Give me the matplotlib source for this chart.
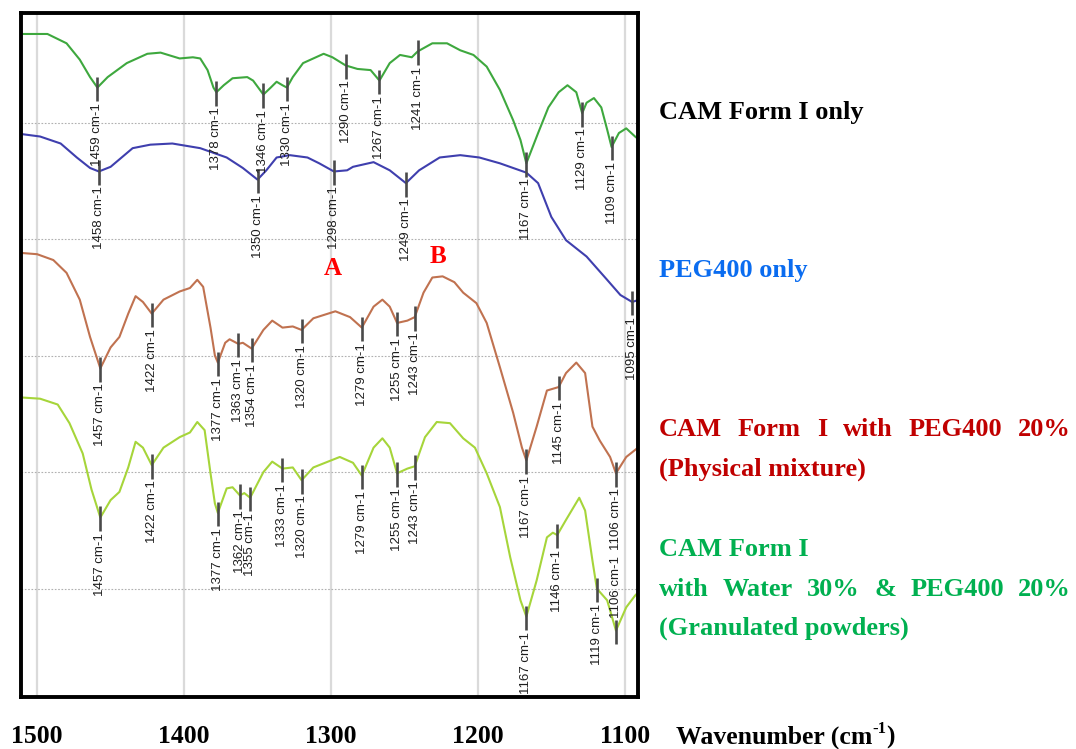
import numpy as np
import matplotlib
matplotlib.use("Agg")
import matplotlib.pyplot as plt

plt.rcParams['mathtext.fontset'] = 'custom'
plt.rcParams['mathtext.rm'] = 'Liberation Serif:bold'
plt.rcParams['mathtext.bf'] = 'Liberation Serif:bold'

# ---------------- data (wavenumber cm-1, transmittance in arbitrary offset units) -------------
cam_wn = [1510, 1493, 1480, 1471, 1464, 1459, 1452, 1439, 1425, 1416, 1403, 1394, 1389, 1384,
          1380, 1378, 1373, 1367, 1357, 1353, 1346, 1341, 1337, 1333, 1330, 1326, 1319, 1305,
          1299, 1290, 1282, 1273, 1267, 1260, 1253, 1245, 1241, 1231, 1221, 1212, 1203, 1194,
          1185, 1176, 1171, 1167, 1159, 1152, 1145, 1139, 1133, 1129, 1126, 1121, 1116, 1112,
          1109, 1104, 1099, 1093, 1090]
cam_t = [57.6, 57.6, 56.8, 55.4, 53.9, 53.0, 53.9, 55.1, 55.9, 56.0, 55.5, 55.6, 55.5, 54.5,
         53.0, 52.6, 53.2, 53.8, 53.9, 53.6, 52.4, 53.0, 53.5, 53.2, 53.0, 53.9, 55.1, 55.9,
         55.6, 54.9, 54.6, 54.5, 53.6, 55.1, 55.8, 55.6, 56.1, 56.8, 56.8, 56.2, 55.8, 54.8,
         52.8, 50.2, 48.5, 46.5, 49.1, 51.3, 52.6, 53.2, 52.6, 50.8, 51.7, 52.1, 51.3, 49.4,
         47.9, 49.1, 49.5, 48.8, 48.5]
cam_peaks = [1459, 1378, 1346, 1330, 1290, 1267, 1241, 1167, 1129, 1109]

peg_wn = [1510, 1498, 1484, 1473, 1464, 1458, 1450, 1435, 1423, 1408, 1389, 1371, 1360, 1350,
          1344, 1337, 1328, 1316, 1308, 1298, 1289, 1285, 1271, 1260, 1249, 1240, 1226, 1212,
          1199, 1185, 1167, 1159, 1150, 1140, 1126, 1112, 1103, 1095, 1090]
peg_t = [49.0, 48.8, 48.2, 47.0, 46.1, 45.8, 46.2, 47.8, 48.1, 48.2, 47.8, 47.0, 46.1, 45.1,
         45.9, 47.0, 47.2, 47.0, 46.5, 45.8, 45.9, 46.2, 46.6, 45.9, 44.8, 45.9, 47.0, 47.2,
         47.0, 46.5, 45.7, 44.8, 41.9, 39.9, 38.5, 36.5, 35.2, 34.6, 34.8]
peg_peaks = [1458, 1350, 1298, 1249, 1095]

mix_wn = [1510, 1500, 1489, 1480, 1471, 1464, 1457, 1450, 1444, 1438, 1433, 1428, 1422, 1414,
          1403, 1396, 1391, 1387, 1382, 1379, 1377, 1372, 1369, 1363, 1360, 1354, 1346, 1340,
          1333, 1326, 1320, 1312, 1297, 1287, 1279, 1271, 1265, 1260, 1255, 1248, 1243, 1237,
          1231, 1224, 1216, 1210, 1201, 1194, 1185, 1176, 1170, 1167, 1160, 1153, 1145, 1140,
          1133, 1127, 1122, 1117, 1110, 1106, 1099, 1093, 1090]
mix_t = [38.8, 38.7, 38.2, 37.1, 34.8, 31.6, 28.9, 30.7, 31.6, 33.6, 35.1, 34.6, 33.6, 34.8,
         35.5, 35.8, 36.5, 35.9, 32.4, 30.0, 29.4, 31.1, 31.4, 31.0, 31.1, 30.6, 32.2, 33.0,
         32.4, 32.5, 32.2, 33.2, 33.8, 33.3, 32.4, 34.2, 34.8, 34.2, 32.8, 33.0, 33.3, 35.4,
         36.7, 36.8, 36.3, 35.4, 34.5, 32.8, 29.0, 25.1, 22.1, 21.0, 23.9, 27.0, 27.3, 28.5,
         29.4, 28.5, 23.9, 22.7, 21.3, 19.9, 21.3, 21.9, 22.2]
mix_peaks = [1457, 1422, 1377, 1363, 1354, 1320, 1279, 1255, 1243, 1167, 1145, 1106]

gran_wn = [1510, 1498, 1486, 1478, 1469, 1463, 1457, 1450, 1444, 1438, 1433, 1428, 1422, 1414,
           1403, 1396, 1391, 1386, 1382, 1379, 1377, 1371, 1367, 1362, 1359, 1355, 1346, 1340,
           1333, 1326, 1320, 1312, 1294, 1285, 1279, 1271, 1265, 1260, 1255, 1248, 1243, 1236,
           1228, 1219, 1210, 1202, 1194, 1185, 1178, 1171, 1167, 1160, 1153, 1149, 1146, 1140,
           1131, 1127, 1122, 1119, 1112, 1106, 1099, 1093, 1090]
gran_t = [26.4, 26.3, 25.8, 24.2, 21.6, 18.5, 16.1, 17.6, 18.3, 20.4, 22.6, 22.1, 20.6, 22.1,
          23.0, 23.4, 24.3, 23.6, 19.9, 17.3, 16.5, 18.6, 18.7, 18.0, 18.2, 17.8, 20.0, 20.9,
          20.3, 20.4, 19.3, 20.4, 21.3, 20.8, 19.7, 22.1, 22.9, 22.1, 19.9, 20.3, 20.5, 23.0,
          24.3, 24.2, 22.9, 22.1, 19.9, 17.0, 12.7, 9.0, 7.6, 10.7, 14.4, 14.8, 14.6, 15.9,
          17.8, 16.7, 12.4, 10.0, 9.0, 6.4, 8.4, 9.4, 9.8]
gran_peaks = [1457, 1422, 1377, 1362, 1355, 1333, 1320, 1279, 1255, 1243, 1167, 1146, 1119, 1106]
gran_peaks_above = [1106]

x_ticks = [1500, 1400, 1300, 1200, 1100]
y_grid = [10, 20, 30, 40, 50]

series_labels = [
    ("CAM Form I only", "black", False),
    ("PEG400 only", "#0A6CF0", False),
    ("CAM Form I with PEG400 20%", "#C00000", True),
    ("(Physical mixture)", "#C00000", False),
    ("CAM Form I", "#00B050", False),
    ("with Water 30% & PEG400 20%", "#00B050", True),
    ("(Granulated powders)", "#00B050", False),
]
label_y_px = [112, 271, 430, 469, 549, 589, 628]

# ---------------- figure ----------------
W, H = 1076, 749
fig = plt.figure(figsize=(W / 100, H / 100), dpi=100)
ax = fig.add_axes([21 / W, 1 - 697 / H, (638 - 21) / W, (697 - 13) / H])
ax.set_xlim(1511, 1091)
ax.set_ylim(0.7, 59.4)

for gx in x_ticks:
    ax.axvline(gx, color="#DADADA", lw=1.6, zorder=0)
for gy in y_grid:
    ax.axhline(gy, color="#B0B0B0", lw=0.8, ls=(0, (1.5, 1.5)), zorder=0)

curves = [
    (cam_wn, cam_t, cam_peaks, [], "#3EA83E"),
    (peg_wn, peg_t, peg_peaks, [], "#3F3FAE"),
    (mix_wn, mix_t, mix_peaks, [], "#C07250"),
    (gran_wn, gran_t, gran_peaks, gran_peaks_above, "#A6D53A"),
]

for wn, t, peaks, above, col in curves:
    ax.plot(wn, t, color=col, lw=1.5, zorder=2)
for wn, t, peaks, above, col in curves:
    wn_a = np.array(wn)[::-1]
    t_a = np.array(t)[::-1]
    for p in peaks:
        yv = np.interp(p, wn_a, t_a)
        ax.plot([p, p], [yv - 1.15, yv + 0.95], color="#4A4A4A", lw=1.9,
                solid_capstyle="butt", zorder=3)
        if p in above:
            ax.text(p, yv + 1.1, f"{p} cm-1", rotation=90, ha="center", va="bottom",
                    fontsize=9.5, family="Liberation Sans", color="#1E1E1E",
                    clip_on=True, zorder=4)
        else:
            ax.text(p, yv - 1.3, f"{p} cm-1", rotation=90, ha="center", va="top",
                    fontsize=9.5, family="Liberation Sans", color="#1E1E1E",
                    clip_on=True, zorder=4)

ax.text(1298.6, 37.5, "A", color="red", fontsize=18, fontweight="bold",
        family="Liberation Serif", ha="center", va="center")
ax.text(1227.2, 38.5, "B", color="red", fontsize=18, fontweight="bold",
        family="Liberation Serif", ha="center", va="center")

ax.set_xticks(x_ticks)
ax.set_xticklabels([str(v) for v in x_ticks], fontsize=18.5, fontweight="bold",
                   family="Liberation Serif")
ax.tick_params(axis="x", length=0, pad=20)
ax.set_yticks([])
for s in ax.spines.values():
    s.set_linewidth(2.8)
    s.set_color("black")

fig.text(676 / W, 1 - 737 / H, "Wavenumber (cm", fontsize=18.5,
         fontweight="bold", family="Liberation Serif", ha="left", va="center")
renderer = fig.canvas.get_renderer()
wl = fig.texts[-1].get_window_extent(renderer)
sup = fig.text(wl.x1 / W, 1 - 729 / H, "-1", fontsize=12, fontweight="bold",
               family="Liberation Serif", ha="left", va="center")
sl = sup.get_window_extent(renderer)
fig.text(sl.x1 / W, 1 - 737 / H, ")", fontsize=18.5, fontweight="bold",
         family="Liberation Serif", ha="left", va="center")

# right side labels, justified lines spread from x=659 to x=1071
left_px, right_px = 659, 1071
for (txt, col, justify), ypx in zip(series_labels, label_y_px):
    yf = 1 - ypx / H
    if not justify:
        fig.text(left_px / W, yf, txt, color=col, fontsize=19, fontweight="bold",
                 family="Liberation Serif", ha="left", va="center")
        continue
    words = txt.split(" ")
    arts = [fig.text(0, yf, w_, color=col, fontsize=19, fontweight="bold",
                     family="Liberation Serif", ha="left", va="center") for w_ in words]
    widths = [a.get_window_extent(renderer).width for a in arts]
    gap = (right_px - left_px - sum(widths)) / (len(words) - 1)
    x = left_px
    for a, wd in zip(arts, widths):
        a.set_x(x / W)
        x += wd + gap

fig.savefig("out.png", dpi=100)
